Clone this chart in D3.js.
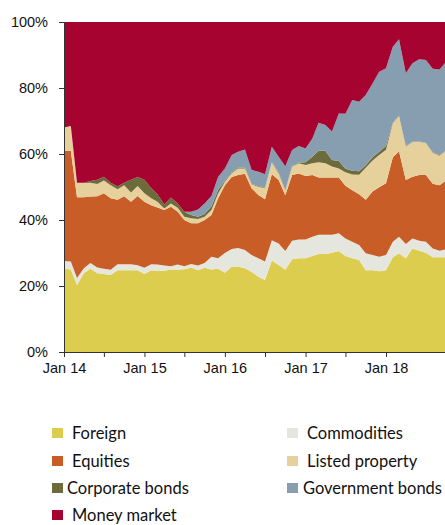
<!DOCTYPE html>
<html>
<head>
<meta charset="utf-8">
<script src="https://cdn.jsdelivr.net/npm/d3@7"></script>
<style>
  body { margin: 0; background: #fff; }
  svg { display: block; font-family: Lato, "Open Sans", sans-serif; }
</style>
</head>
<body>
<svg id="chart" width="445" height="525"></svg>
<script>
// monthly shares (%), Jan 2014 onwards
const startMonth = new Date(2014, 0, 1);
const foreign = [25.2,25.0,20.3,23.9,25.2,23.9,23.6,23.3,24.8,24.8,24.8,24.8,23.6,24.8,24.6,24.6,25.0,25.0,25.1,25.6,
  24.8,25.5,25.0,25.2,24.0,25.9,25.9,25.4,24.3,22.8,21.8,27.7,26.4,25.0,28.1,28.4,28.4,29.1,29.7,29.7,
  30.1,30.6,29.1,28.4,27.9,24.8,24.8,24.5,24.8,28.7,29.9,28.4,31.4,30.7,30.1,28.7,28.7,28.7];
const commodities = [2.4,2.4,2.1,1.5,1.8,1.7,1.6,1.6,1.8,1.8,1.8,1.5,1.9,1.8,1.9,1.6,1.0,1.5,0.9,1.1,
  1.4,1.5,3.9,3.2,6.0,5.3,5.6,5.5,5.1,5.6,5.6,6.2,6.5,5.7,5.6,5.7,5.7,5.8,5.8,5.8,
  5.4,5.4,5.3,5.0,4.5,5.1,4.6,4.4,4.6,4.7,5.0,4.3,3.0,3.0,3.3,2.7,2.0,2.4];
const equities = [33.4,33.6,24.5,21.5,20.1,21.6,22.9,21.7,19.5,20.6,18.9,21.0,20.0,17.9,17.3,16.8,18.0,16.0,14.0,12.3,
  12.8,13.0,12.6,18.1,20.5,21.8,22.1,23.1,20.2,19.2,18.9,20.0,19.2,16.9,19.9,20.0,19.2,18.7,17.4,17.4,
  17.4,16.9,16.0,15.6,15.4,16.2,19.2,21.0,21.7,25.6,25.9,19.4,18.7,19.9,20.2,19.6,19.8,20.9];
const listedProperty = [7.0,7.5,4.4,4.3,4.2,3.7,3.9,3.9,3.2,3.3,2.8,3.0,2.6,2.1,1.7,0.5,1.0,1.2,1.0,1.5,
  1.3,1.0,1.5,1.5,1.0,1.2,2.0,1.6,1.2,2.5,3.3,3.5,2.0,1.4,2.6,3.1,3.4,3.6,4.6,4.3,
  3.3,2.7,4.1,4.8,5.9,9.7,9.4,9.8,10.2,10.3,10.7,10.2,10.5,10.1,9.7,9.4,9.0,9.1];
const corporateBonds = [0,0,0,0.1,0.5,1.3,1.1,0.8,0.9,0.8,3.9,2.7,4.1,3.0,2.3,1.2,1.8,1.3,1.5,1.0,
  0.7,0.8,1.2,1.1,0.3,0.2,0.2,0.2,0.2,0.2,0.2,0.2,0.2,0.2,0.2,0.2,0.8,2.0,3.5,3.8,
  2.0,2.3,1.0,1.1,1.1,0.8,1.0,1.0,1.1,0.2,0.1,0.1,0.1,0.1,0.1,0.1,0.1,0.1];
const governmentBonds = [0,0,0,0,0,0,0,0,0,0,0,0,0,0,0,0,0,0,0,1.0,
  2.2,3.2,3.1,3.9,3.8,5.3,4.9,5.6,4.2,4.3,4.1,4.6,4.9,7.2,4.8,5.0,4.2,5.5,8.5,7.8,
  8.6,14.4,16.7,21.5,21.0,21.3,22.4,24.2,23.6,23.0,23.2,22.1,23.8,24.9,25.1,25.3,26.0,26.8];
const moneyMarket = [32.0,31.5,48.7,48.7,48.2,47.8,46.9,48.7,49.8,48.7,47.8,47.0,47.8,50.4,52.2,55.3,53.2,55.0,57.5,57.5,
  56.8,55.0,52.7,47.0,44.4,40.3,39.3,38.6,44.8,45.4,46.1,37.8,40.8,43.8,38.8,37.6,38.3,35.3,30.5,31.2,
  33.2,27.7,27.8,23.6,24.2,22.1,18.6,15.1,14.0,7.5,5.2,15.5,12.5,11.3,11.5,14.2,14.4,12.0];

const seriesNames = ["Foreign", "Commodities", "Equities", "Listed property", "Corporate bonds", "Government bonds", "Money market"];
const seriesValues = [foreign, commodities, equities, listedProperty, corporateBonds, governmentBonds, moneyMarket];
const colors = ["#ddcd4e", "#e5e7de", "#c95d28", "#e6d19c", "#6d6b3b", "#879db0", "#a60330"];
const yTicks = [0, 0.2, 0.4, 0.6, 0.8, 1];

const svg = d3.select("#chart");
const plotLeft = 64, plotTop = 22, plotBottom = 352;

const table = foreign.map((_, i) => {
  const row = { date: d3.timeMonth.offset(startMonth, i) };
  seriesNames.forEach((name, k) => row[name] = seriesValues[k][i]);
  return row;
});

const x = d3.scaleTime()
  .domain([startMonth, new Date(2018, 0, 1)])
  .range([plotLeft, 386]);
const y = d3.scaleLinear().domain([0, 1]).range([plotBottom, plotTop]);

// shares are normalised so every month fills 100%
const stacked = d3.stack().keys(seriesNames).offset(d3.stackOffsetExpand)(table);

const area = d3.area()
  .x(d => x(d.data.date))
  .y0(d => y(d[0]))
  .y1(d => y(d[1]));

svg.append("g")
  .selectAll("path")
  .data(stacked)
  .join("path")
  .attr("d", area)
  .attr("fill", (d, i) => colors[i]);

// y axis
const yAxis = svg.append("g")
  .attr("transform", `translate(${plotLeft},0)`)
  .call(d3.axisLeft(y).tickValues(yTicks).tickFormat(d3.format(".0%")).tickSize(5).tickSizeOuter(0));
yAxis.select(".domain").attr("stroke", "#333");
yAxis.selectAll(".tick line").attr("stroke", "#333");
yAxis.selectAll("text").attr("font-size", 14.5).attr("fill", "#111").attr("x", -16);

// x axis
const xAxis = svg.append("g")
  .attr("transform", `translate(0,${plotBottom})`)
  .call(d3.axisBottom(x)
    .ticks(d3.timeMonth.every(6))
    .tickFormat(d => d.getMonth() === 0 ? d3.timeFormat("Jan %y")(d) : "")
    .tickSize(5).tickSizeOuter(0));
xAxis.select(".domain").attr("stroke", "#333").attr("d", `M${plotLeft},0.5H445`);
xAxis.selectAll(".tick line").attr("stroke", "#333");
xAxis.selectAll("text").attr("font-size", 14.5).attr("fill", "#111").attr("dy", "0.9em");

// legend
const legendItems = [
  { k: 0, x: 52, y: 433, gap: 20 },
  { k: 1, x: 287, y: 433, gap: 20 },
  { k: 2, x: 52, y: 461, gap: 20 },
  { k: 3, x: 287, y: 461, gap: 20 },
  { k: 4, x: 52, y: 488, gap: 15 },
  { k: 5, x: 287, y: 488, gap: 16 },
  { k: 6, x: 52, y: 515, gap: 20 }
];
const legend = svg.append("g").selectAll("g")
  .data(legendItems)
  .join("g")
  .attr("transform", d => `translate(${d.x},${d.y})`);
legend.append("rect")
  .attr("x", 0).attr("y", -5).attr("width", 11).attr("height", 10)
  .attr("fill", d => colors[d.k]);
legend.append("text")
  .attr("x", d => d.gap).attr("y", 0).attr("dy", "0.35em")
  .attr("font-size", 16.5).attr("fill", "#111")
  .text(d => seriesNames[d.k]);
</script>
</body>
</html>
